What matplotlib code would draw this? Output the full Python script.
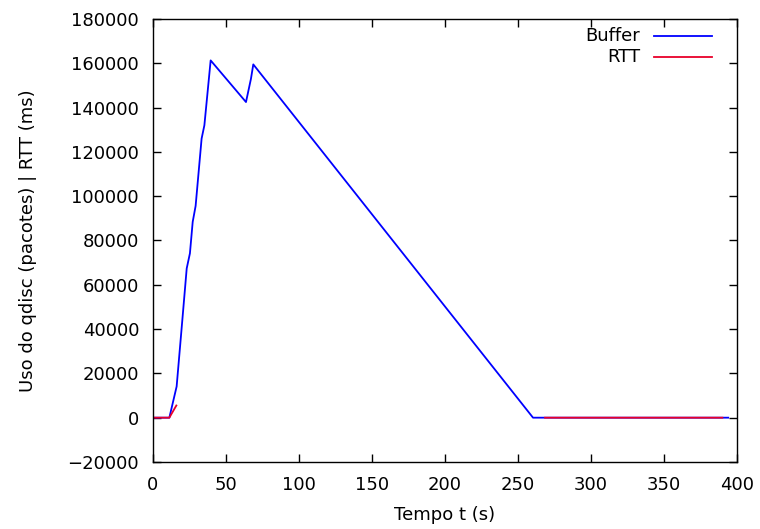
import numpy as np
import matplotlib
matplotlib.use('Agg')
import matplotlib.pyplot as plt

plt.rcParams['font.family'] = ['DejaVu Sans']
plt.rcParams['font.size'] = 13

# ocupação da qdisc (pacotes) ao longo do tempo
buf_t = [0, 11.2, 16.2, 20.1, 23.1, 25.3, 27.2, 29.2, 33.3, 35.2, 39.5,
         63.7, 67.1, 68.7, 260.3, 394]
buf_v = [0, 0, 14100, 44100, 67400, 74200, 88400, 95600, 126000, 132000, 161300,
         142500, 153000, 159500, 0, 0]

# RTT (ms) - sem amostras no meio do experimento
rtt_t = [0, 11.2, 16.0, np.nan, 268.5, 390]
rtt_v = [0, 0, 5500, np.nan, 0, 0]

fig = plt.figure(figsize=(7.6, 5.29), dpi=100)
ax = fig.add_axes([0.2013, 0.1267, 0.7684, 0.8374])

ax.plot(buf_t, buf_v, color='#0000ff', lw=1.3)
ax.plot(rtt_t, rtt_v, color='#e8002a', lw=1.3)

ax.set_xlim(0, 400)
ax.set_ylim(-20000, 180000)
ax.set_xticks(np.arange(0, 401, 50))
ax.set_yticks(np.arange(-20000, 180001, 20000))
ax.set_yticklabels([f"{v}".replace('-', '\u2212') for v in range(-20000, 180001, 20000)])
ax.tick_params(direction='in', top=True, right=True, length=6, width=1)
ax.tick_params(axis='x', pad=10)
ax.tick_params(axis='y', pad=10)
for s in ax.spines.values():
    s.set_linewidth(1)

ax.set_xlabel("Tempo t (s)", labelpad=9)
ax.set_ylabel("Uso do qdisc (pacotes) | RTT (ms)", labelpad=22)

# legenda no estilo gnuplot: texto alinhado à direita, amostra depois
for i, (lab, col) in enumerate([("Buffer", '#0000ff'), ("RTT", '#e8002a')]):
    y = 0.962 - i * 0.047
    ax.text(0.834, y, lab, transform=ax.transAxes, ha='right', va='center')
    ax.plot([0.858, 0.957], [y, y], transform=ax.transAxes, color=col, lw=1.3)

fig.savefig("out.png", dpi=100)
